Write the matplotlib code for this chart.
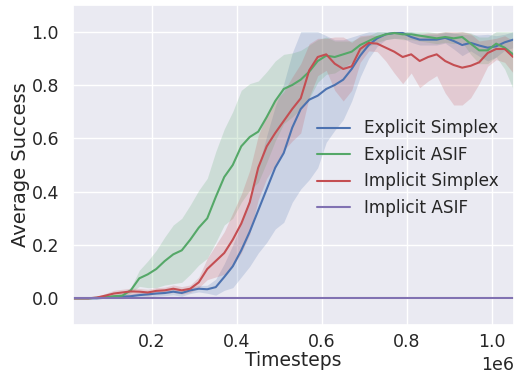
import numpy as np
import matplotlib
matplotlib.use("Agg")
import matplotlib.pyplot as plt
import seaborn as sns

sns.set_theme(style="darkgrid")
plt.rcParams['font.family'] = ['DejaVu Sans']

timesteps = np.array([0.01, 0.03, 0.05, 0.07, 0.09, 0.11, 0.13, 0.15, 0.17, 0.19,
                      0.21, 0.23, 0.25, 0.27, 0.29, 0.31, 0.33, 0.35, 0.37, 0.39,
                      0.41, 0.43, 0.45, 0.47, 0.49, 0.51, 0.53, 0.55, 0.57, 0.59,
                      0.61, 0.63, 0.65, 0.67, 0.69, 0.71, 0.73, 0.75, 0.77, 0.79,
                      0.81, 0.83, 0.85, 0.87, 0.89, 0.91, 0.93, 0.95, 0.97, 0.99,
                      1.01, 1.03, 1.05]) * 1e6

explicit_simplex_mean = [0, 0, 0, 0, 0.002, 0.004, 0.006, 0.008, 0.012, 0.015,
                         0.018, 0.02, 0.025, 0.02, 0.03, 0.036, 0.034, 0.042, 0.08, 0.12,
                         0.18, 0.25, 0.33, 0.41, 0.49, 0.545, 0.64, 0.71, 0.745, 0.76,
                         0.785, 0.80, 0.82, 0.86, 0.91, 0.95, 0.975, 0.99, 0.995, 0.995,
                         0.98, 0.97, 0.97, 0.97, 0.977, 0.965, 0.95, 0.958, 0.948, 0.94,
                         0.945, 0.96, 0.97]
explicit_simplex_std = [0, 0, 0, 0, 0.003, 0.005, 0.007, 0.008, 0.01, 0.01,
                        0.01, 0.01, 0.012, 0.012, 0.012, 0.012, 0.015, 0.03, 0.05, 0.08,
                        0.10, 0.13, 0.16, 0.20, 0.23, 0.26, 0.28, 0.30, 0.30, 0.27,
                        0.20, 0.17, 0.15, 0.12, 0.08, 0.05, 0.03, 0.02, 0.02, 0.02,
                        0.02, 0.02, 0.02, 0.02, 0.02, 0.03, 0.04, 0.03, 0.04, 0.05,
                        0.04, 0.03, 0.03]

explicit_asif_mean = [0, 0, 0, 0.002, 0.005, 0.008, 0.01, 0.03, 0.075, 0.09,
                      0.11, 0.14, 0.165, 0.18, 0.22, 0.265, 0.30, 0.38, 0.455, 0.50,
                      0.57, 0.605, 0.625, 0.68, 0.74, 0.785, 0.80, 0.82, 0.85, 0.89,
                      0.91, 0.905, 0.915, 0.925, 0.95, 0.965, 0.98, 0.99, 0.995, 0.99,
                      0.99, 0.985, 0.98, 0.975, 0.98, 0.975, 0.98, 0.955, 0.93, 0.93,
                      0.955, 0.94, 0.915]
explicit_asif_std = [0, 0, 0, 0.002, 0.004, 0.006, 0.008, 0.01, 0.03, 0.05,
                     0.07, 0.09, 0.11, 0.12, 0.13, 0.14, 0.15, 0.17, 0.18, 0.20,
                     0.21, 0.20, 0.19, 0.17, 0.15, 0.13, 0.12, 0.11, 0.10, 0.08,
                     0.07, 0.06, 0.05, 0.04, 0.03, 0.02, 0.02, 0.02, 0.02, 0.02,
                     0.02, 0.02, 0.02, 0.02, 0.02, 0.02, 0.02, 0.04, 0.05, 0.05,
                     0.05, 0.08, 0.13]

implicit_simplex_mean = [0, 0, 0, 0.003, 0.01, 0.018, 0.022, 0.026, 0.025, 0.022,
                         0.028, 0.03, 0.036, 0.03, 0.036, 0.06, 0.11, 0.14, 0.17, 0.22,
                         0.28, 0.36, 0.49, 0.57, 0.62, 0.665, 0.71, 0.75, 0.855, 0.905,
                         0.915, 0.88, 0.86, 0.87, 0.935, 0.958, 0.955, 0.94, 0.925, 0.905,
                         0.915, 0.89, 0.905, 0.915, 0.89, 0.875, 0.865, 0.872, 0.885, 0.92,
                         0.935, 0.935, 0.905]
implicit_simplex_std = [0, 0, 0, 0.004, 0.008, 0.012, 0.012, 0.012, 0.012, 0.012,
                        0.012, 0.012, 0.014, 0.014, 0.014, 0.02, 0.04, 0.06, 0.08, 0.10,
                        0.11, 0.12, 0.12, 0.12, 0.12, 0.11, 0.12, 0.13, 0.10, 0.07,
                        0.06, 0.10, 0.12, 0.09, 0.05, 0.03, 0.03, 0.05, 0.08, 0.10,
                        0.07, 0.10, 0.09, 0.08, 0.12, 0.15, 0.14, 0.12, 0.08, 0.05,
                        0.04, 0.05, 0.06]

implicit_asif_mean = [0.0] * 53
implicit_asif_std = [0.0] * 53

labels = ["Explicit Simplex", "Explicit ASIF", "Implicit Simplex", "Implicit ASIF"]
colors = ["#4C72B0", "#55A868", "#C44E52", "#8172B2"]
means = [explicit_simplex_mean, explicit_asif_mean, implicit_simplex_mean, implicit_asif_mean]
stds = [explicit_simplex_std, explicit_asif_std, implicit_simplex_std, implicit_asif_std]

fig = plt.figure(figsize=(5.18, 3.77), dpi=100)
ax = fig.add_axes([73/518, 1-325/377, (514-73)/518, (325-5)/377])

for lab, c, m, s in zip(labels, colors, means, stds):
    m = np.array(m); s = np.array(s)
    ax.plot(timesteps, m, color=c, lw=1.5, label=lab)
    ax.fill_between(timesteps, np.clip(m - s, -1, 1.0), np.clip(m + s, -1, 1.0),
                    color=c, alpha=0.2, lw=0)

ax.set_xlim(0.014e6, 1.052e6)
ax.set_ylim(-0.1, 1.1)
ax.set_xticks([0.2e6, 0.4e6, 0.6e6, 0.8e6, 1.0e6])
ax.set_yticks([0.0, 0.2, 0.4, 0.6, 0.8, 1.0])
ax.tick_params(axis='y', labelsize=12.5, pad=4)
ax.tick_params(axis='x', labelsize=12.5, pad=0)
ax.xaxis.get_offset_text().set_fontsize(12.5)
ax.set_xlabel("Timesteps", fontsize=13.5, labelpad=0)
ax.set_ylabel("Average Success", fontsize=14, labelpad=1)
ax.legend(loc="center right", bbox_to_anchor=(1.0, 0.49), frameon=False, fontsize=12.2,
          handlelength=2.0)

fig.savefig("out.png", dpi=100)
